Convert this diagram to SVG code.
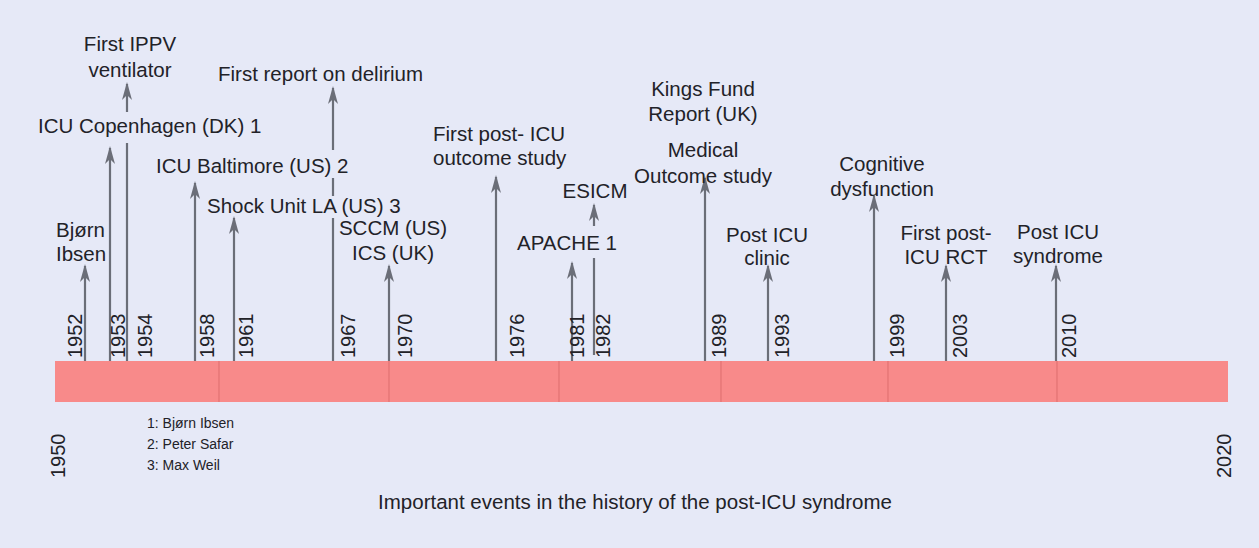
<svg xmlns="http://www.w3.org/2000/svg" width="1259" height="548" viewBox="0 0 1259 548">
<defs>
<marker id="ah" viewBox="0 0 18 10" refX="16" refY="5" markerWidth="18" markerHeight="10" markerUnits="userSpaceOnUse" orient="auto">
<path d="M0,0 L18,5 L0,10 L5,5 Z" fill="#6b6e78"/>
</marker>
<style>
.ln{stroke:#6b6e78;stroke-width:2.2;fill:none}
.ar{marker-end:url(#ah)}
.t{font-family:"Liberation Sans",Arial,sans-serif;font-size:20.5px;fill:#222228}
.c{text-anchor:middle}
.y{font-family:"Liberation Sans",Arial,sans-serif;font-size:20px;fill:#222228}
.f{font-family:"Liberation Sans",Arial,sans-serif;font-size:14px;fill:#222228}
.dv{stroke:#e27272;stroke-width:1.2}
</style>
</defs>
<rect width="1259" height="548" fill="#e6e9f7"/>
<g id="bar">
<rect x="55" y="361" width="1173" height="41" fill="#f88a8a"/>
<line class="dv" x1="219" y1="361" x2="219" y2="402"/>
<line class="dv" x1="389" y1="361" x2="389" y2="402"/>
<line class="dv" x1="559" y1="361" x2="559" y2="402"/>
<line class="dv" x1="721" y1="361" x2="721" y2="402"/>
<line class="dv" x1="888" y1="361" x2="888" y2="402"/>
<line class="dv" x1="1057" y1="361" x2="1057" y2="402"/>
</g>
<g id="connectors">
<line class="ln ar" x1="85" y1="361" x2="85" y2="266"/>
<line class="ln ar" x1="110" y1="361" x2="110" y2="148"/>
<line class="ln" x1="127" y1="361" x2="127" y2="143"/>
<line class="ln ar" x1="127" y1="112" x2="127" y2="84"/>
<line class="ln ar" x1="195" y1="361" x2="195" y2="183"/>
<line class="ln ar" x1="234" y1="361" x2="234" y2="218"/>
<line class="ln" x1="333" y1="361" x2="333" y2="218"/>
<line class="ln" x1="333" y1="196" x2="333" y2="178"/>
<line class="ln ar" x1="333" y1="150" x2="333" y2="88"/>
<line class="ln ar" x1="389" y1="361" x2="389" y2="266"/>
<line class="ln ar" x1="496" y1="361" x2="496" y2="177"/>
<line class="ln ar" x1="572" y1="361" x2="572" y2="263"/>
<line class="ln" x1="594" y1="355" x2="594" y2="258"/>
<line class="ln ar" x1="594" y1="226" x2="594" y2="205"/>
<line class="ln ar" x1="705" y1="361" x2="705" y2="178"/>
<line class="ln ar" x1="768" y1="361" x2="768" y2="266"/>
<line class="ln ar" x1="874" y1="361" x2="874" y2="196"/>
<line class="ln ar" x1="946" y1="361" x2="946" y2="266"/>
<line class="ln ar" x1="1056" y1="361" x2="1056" y2="266"/>
</g>
<g id="years">
<text class="y" transform="translate(82,358) rotate(-90)">1952</text>
<text class="y" transform="translate(125,358) rotate(-90)">1953</text>
<text class="y" transform="translate(152,358) rotate(-90)">1954</text>
<text class="y" transform="translate(214,358) rotate(-90)">1958</text>
<text class="y" transform="translate(253,358) rotate(-90)">1961</text>
<text class="y" transform="translate(355,358) rotate(-90)">1967</text>
<text class="y" transform="translate(412,358) rotate(-90)">1970</text>
<text class="y" transform="translate(524,358) rotate(-90)">1976</text>
<text class="y" transform="translate(584,358) rotate(-90)">1981</text>
<text class="y" transform="translate(610,358) rotate(-90)">1982</text>
<text class="y" transform="translate(726,358) rotate(-90)">1989</text>
<text class="y" transform="translate(789,358) rotate(-90)">1993</text>
<text class="y" transform="translate(904,358) rotate(-90)">1999</text>
<text class="y" transform="translate(967,358) rotate(-90)">2003</text>
<text class="y" transform="translate(1076,358) rotate(-90)">2010</text>
<text class="y" transform="translate(65,478) rotate(-90)">1950</text>
<text class="y" transform="translate(1231,478) rotate(-90)">2020</text>
</g>
<g id="n1952"><text class="t" x="56" y="237">Bjørn</text><text class="t" x="56" y="261">Ibsen</text></g>
<g id="n1953"><text class="t" x="38" y="133">ICU Copenhagen (DK) 1</text></g>
<g id="n1954"><text class="t c" x="130" y="51">First IPPV</text><text class="t c" x="130" y="77">ventilator</text></g>
<g id="n1958"><text class="t" x="156" y="173">ICU Baltimore (US) 2</text></g>
<g id="n1961"><text class="t" x="207" y="213">Shock Unit LA (US) 3</text></g>
<g id="n1967"><text class="t" x="218" y="81">First report on delirium</text></g>
<g id="n1970"><text class="t c" x="393" y="235">SCCM (US)</text><text class="t c" x="393" y="260">ICS (UK)</text></g>
<g id="n1976"><text class="t" x="433" y="141">First post- ICU</text><text class="t" x="433" y="165">outcome study</text></g>
<g id="n1981"><text class="t c" x="567" y="250">APACHE 1</text></g>
<g id="n1982"><text class="t c" x="595" y="198">ESICM</text></g>
<g id="n1989a"><text class="t c" x="703" y="96">Kings Fund</text><text class="t c" x="703" y="121">Report (UK)</text></g>
<g id="n1989b"><text class="t c" x="703" y="157">Medical</text><text class="t c" x="703" y="183">Outcome study</text></g>
<g id="n1993"><text class="t c" x="767" y="242">Post ICU</text><text class="t c" x="767" y="265">clinic</text></g>
<g id="n1999"><text class="t c" x="882" y="171">Cognitive</text><text class="t c" x="882" y="196">dysfunction</text></g>
<g id="n2003"><text class="t c" x="946" y="240">First post-</text><text class="t c" x="946" y="264">ICU RCT</text></g>
<g id="n2010"><text class="t c" x="1058" y="239">Post ICU</text><text class="t c" x="1058" y="263">syndrome</text></g>
<g id="notes">
<text class="f" x="147" y="428">1: Bjørn Ibsen</text>
<text class="f" x="147" y="449">2: Peter Safar</text>
<text class="f" x="147" y="470">3: Max Weil</text>
<text class="t c" x="635" y="509">Important events in the history of the post-ICU syndrome</text>
</g>
</svg>
